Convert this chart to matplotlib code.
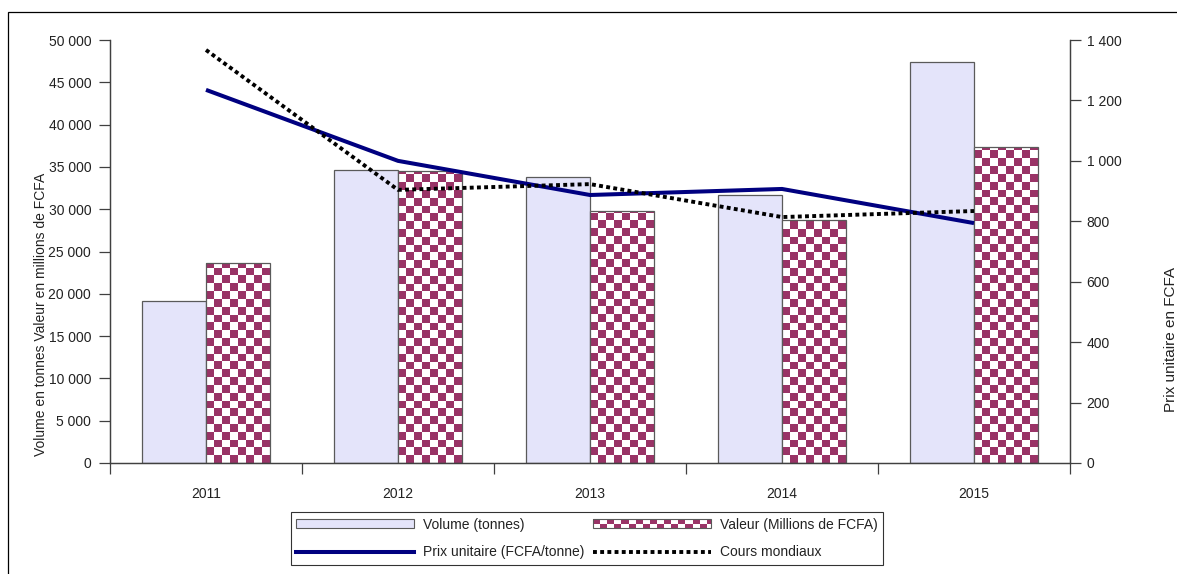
import numpy as np
import matplotlib
matplotlib.use('Agg')
import matplotlib.pyplot as plt
from matplotlib.patches import Patch, Rectangle
from matplotlib.lines import Line2D
from matplotlib.colors import ListedColormap
from matplotlib.legend_handler import HandlerBase
from matplotlib.ticker import FuncFormatter, FixedLocator

# Donnees
annees = ['2011', '2012', '2013', '2014', '2015']
volume = [19100, 34600, 33800, 31700, 47400]          # tonnes
valeur = [23600, 34500, 29800, 28700, 37400]          # millions de FCFA
prix_unitaire = [1235, 1000, 887, 907, 794]           # FCFA/tonne
cours_mondiaux = [1367, 904, 923, 814, 834]

COL_VOL = '#E4E4FA'
COL_VAL = '#993366'
COL_EDGE = '#5a5a5a'
COL_PRIX = '#000080'
COL_AXE = '#404040'

plt.rcParams['font.family'] = ['Liberation Sans', 'DejaVu Sans']

W, H = 1177, 574
fig = plt.figure(figsize=(W / 100, H / 100), dpi=100)

# cadre exterieur
fig.patches.append(Rectangle((8 / W, -0.05), 1.2, 1 - 12 / H + 0.05,
                             transform=fig.transFigure, fill=False,
                             edgecolor='black', linewidth=0.9))

ax = fig.add_axes([110 / W, 1 - 463 / H, 960 / W, 423 / H])
ax2 = ax.twinx()

x = np.arange(len(annees))
larg = 1 / 3

ax.set_xlim(-0.5, len(annees) - 0.5)
ax.set_ylim(0, 50000)
ax2.set_ylim(0, 1400)

barres_vol = ax.bar(x - larg / 2, volume, larg, color=COL_VOL,
                    edgecolor=COL_EDGE, linewidth=0.9, zorder=2)
barres_val = ax.bar(x + larg / 2, valeur, larg, facecolor='none',
                    edgecolor=COL_EDGE, linewidth=0.9, zorder=3)

# damier des barres Valeur
cmap_damier = ListedColormap(['white', COL_VAL])
cell_px = 7.8
ax_w_px = 960
ax_h_px = 423
dx = cell_px * (ax.get_xlim()[1] - ax.get_xlim()[0]) / ax_w_px
dy = cell_px * (ax.get_ylim()[1] - ax.get_ylim()[0]) / ax_h_px
for rect in barres_val:
    x0, w, h = rect.get_x(), rect.get_width(), rect.get_height()
    nc = max(1, int(round(w / dx)))
    nr = max(1, int(np.ceil(h / dy)))
    ii, jj = np.indices((nr, nc))
    damier = (ii + jj) % 2
    im = ax.imshow(damier, cmap=cmap_damier, interpolation='nearest',
                   extent=(x0, x0 + w, 0, nr * dy), origin='lower',
                   aspect='auto', zorder=2.5)
    im.set_clip_path(rect)
ax.set_xlim(-0.5, len(annees) - 0.5)
ax.set_ylim(0, 50000)

# courbes sur l'axe secondaire
ax2.plot(x, prix_unitaire, color=COL_PRIX, linewidth=2.9,
         solid_capstyle='butt', zorder=4)
ax2.plot(x, cours_mondiaux, color='black', linewidth=2.8,
         linestyle=(0, (1, 0.85)), dash_capstyle='butt', zorder=5)

# axes
def milliers(v, pos):
    return f'{int(v):,}'.replace(',', ' ')

for a in (ax, ax2):
    a.spines['top'].set_visible(False)
    for s in ('left', 'right', 'bottom'):
        a.spines[s].set_color(COL_AXE)
        a.spines[s].set_linewidth(0.9)

ax.set_yticks(np.arange(0, 50001, 5000))
ax.yaxis.set_major_formatter(FuncFormatter(milliers))
ax.tick_params(axis='y', length=8, width=0.9, color=COL_AXE, pad=5.5,
               labelsize=10, labelcolor='#222222')
ax2.set_yticks(np.arange(0, 1401, 200))
ax2.yaxis.set_major_formatter(FuncFormatter(milliers))
ax2.tick_params(axis='y', length=8, width=0.9, color=COL_AXE, pad=4,
                labelsize=10, labelcolor='#222222')

ax.xaxis.set_major_locator(FixedLocator(np.arange(-0.5, len(annees), 1)))
ax.xaxis.set_minor_locator(FixedLocator(x))
ax.set_xticklabels([], minor=False)
ax.set_xticklabels(annees, minor=True)
ax.tick_params(axis='x', which='major', length=8, width=0.9, color=COL_AXE)
ax.tick_params(axis='x', which='minor', length=0, pad=17.5, labelsize=10,
               labelcolor='#222222')

fig.text(41 / W, 1 - 314 / H, 'Volume en tonnes Valeur en millions de FCFA',
         rotation=90, ha='center', va='center', fontsize=10, color='#222222')
fig.text(1171 / W, 1 - 340 / H, 'Prix unitaire en FCFA',
         rotation=90, ha='center', va='center', fontsize=11, color='#222222')


class HandlerDamier(HandlerBase):
    def create_artists(self, legend, orig_handle, xdescent, ydescent,
                       width, height, fontsize, trans):
        artistes = []
        ch = height / 2
        cw = height * 0.85
        nc = int(np.ceil(width / cw))
        for r in range(2):
            for c in range(nc):
                if (r + c) % 2 == 0:
                    continue
                cx = -xdescent + c * cw
                ww = min(cw, -xdescent + width - cx)
                artistes.append(Rectangle((cx, -ydescent + r * ch), ww, ch,
                                          facecolor=COL_VAL, edgecolor='none',
                                          transform=trans))
        artistes.append(Rectangle((-xdescent, -ydescent), width, height,
                                  facecolor='none', edgecolor=COL_EDGE,
                                  linewidth=0.8, transform=trans))
        return artistes


h_vol = Patch(facecolor=COL_VOL, edgecolor=COL_EDGE, linewidth=0.8)
h_val = Patch(facecolor='white', edgecolor=COL_EDGE)
h_prix = Line2D([], [], color=COL_PRIX, linewidth=2.9)
h_cours = Line2D([], [], color='black', linewidth=2.8,
                 linestyle=(0, (1, 0.85)), dash_capstyle='butt')

leg = fig.legend([h_vol, h_prix, h_val, h_cours],
                 ['Volume (tonnes)', 'Prix unitaire (FCFA/tonne)',
                  'Valeur (Millions de FCFA)', 'Cours mondiaux'],
                 handler_map={h_val: HandlerDamier()},
                 ncol=2, loc='center', bbox_to_anchor=(587 / W, 1 - 538.5 / H),
                 fontsize=10, handlelength=8.5, handleheight=0.55,
                 handletextpad=0.65, columnspacing=0.6, labelspacing=1.0,
                 borderpad=0.4, fancybox=False, frameon=True)
leg.get_frame().set_edgecolor('black')
leg.get_frame().set_linewidth(0.8)
for t in leg.get_texts():
    t.set_color('#222222')

fig.savefig('out.png', dpi=100)
